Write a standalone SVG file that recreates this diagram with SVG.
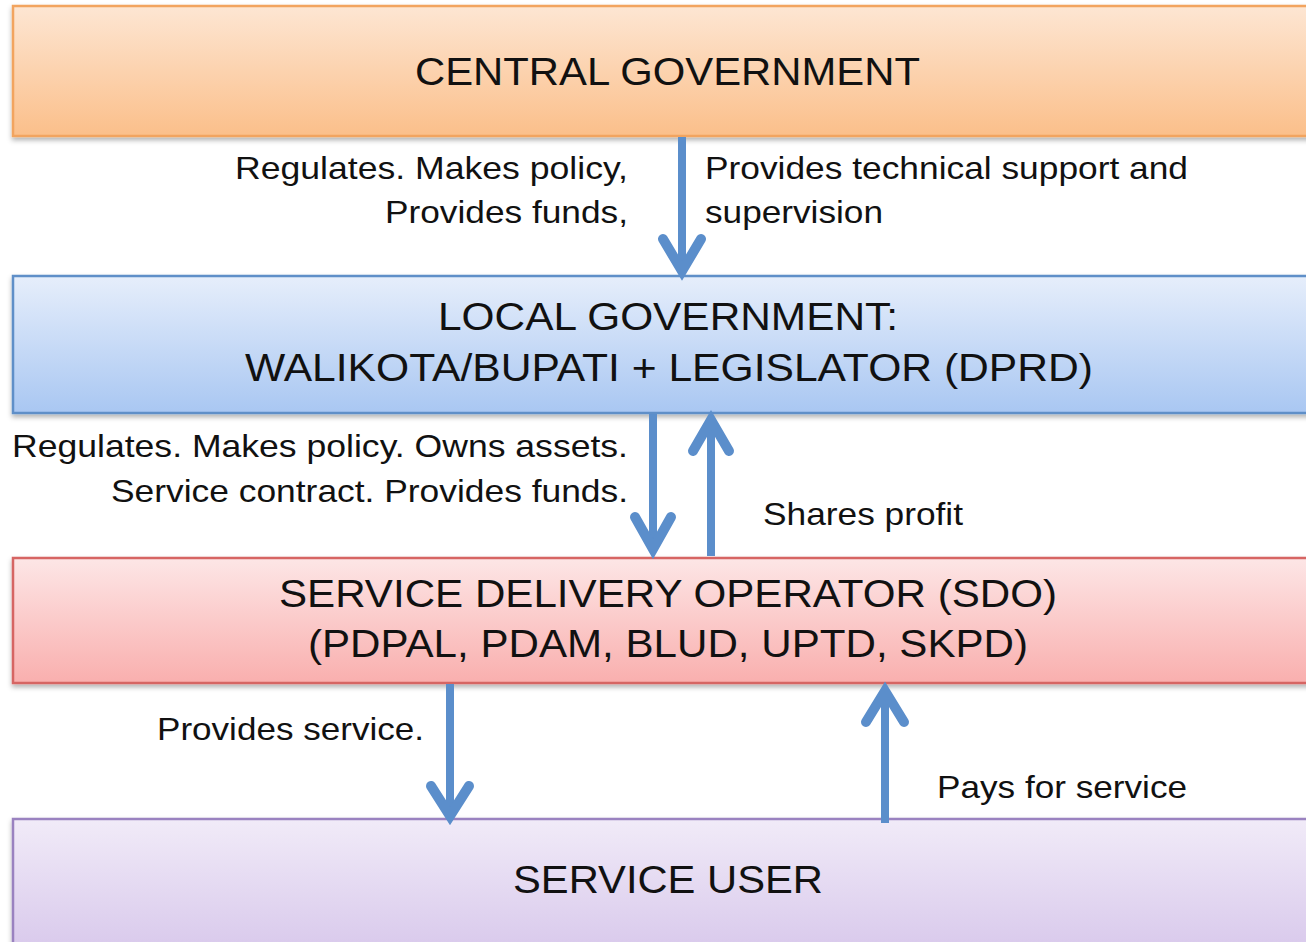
<svg xmlns="http://www.w3.org/2000/svg" width="1306" height="942" viewBox="0 0 1306 942">
<defs>
<linearGradient id="gOrange" x1="0" y1="0" x2="0" y2="1"><stop offset="0" stop-color="#fde6d3"/><stop offset="1" stop-color="#fbbf8a"/></linearGradient>
<linearGradient id="gBlue" x1="0" y1="0" x2="0" y2="1"><stop offset="0" stop-color="#e6eefb"/><stop offset="1" stop-color="#a9c7f2"/></linearGradient>
<linearGradient id="gRed" x1="0" y1="0" x2="0" y2="1"><stop offset="0" stop-color="#fde6e6"/><stop offset="1" stop-color="#f9afae"/></linearGradient>
<linearGradient id="gPurple" x1="0" y1="0" x2="0" y2="1"><stop offset="0" stop-color="#f1ebf8"/><stop offset="1" stop-color="#d5c4ea"/></linearGradient>
<filter id="shadow" x="-5%" y="-10%" width="110%" height="130%"><feDropShadow dx="0" dy="3" stdDeviation="2.5" flood-color="#000" flood-opacity="0.3"/></filter>
</defs>
<style>
.title{font-family:"Liberation Sans",Arial,sans-serif;font-size:39px;fill:#111;}
.lbl{font-family:"Liberation Sans",Arial,sans-serif;font-size:32px;fill:#111;}
.box{stroke-width:2.5;filter:url(#shadow);}
.shaft{stroke:#5b8ecb;stroke-width:8;fill:none;}
.head{stroke:#5b8ecb;stroke-width:10;fill:none;stroke-linecap:round;stroke-linejoin:miter;}
</style>
<rect width="1306" height="942" fill="#ffffff"/>
<g id="central">
<rect class="box" x="13" y="6" width="1320" height="130" fill="url(#gOrange)" stroke="#f2a45e"/>
<text class="title" x="415" y="85" textLength="505" lengthAdjust="spacingAndGlyphs">CENTRAL GOVERNMENT</text>
</g>
<g id="local">
<rect class="box" x="13" y="276" width="1320" height="137" fill="url(#gBlue)" stroke="#5e8fc8"/>
<text class="title" x="438" y="330" textLength="460" lengthAdjust="spacingAndGlyphs">LOCAL GOVERNMENT:</text>
<text class="title" x="245" y="381" textLength="848" lengthAdjust="spacingAndGlyphs">WALIKOTA/BUPATI + LEGISLATOR (DPRD)</text>
</g>
<g id="sdo">
<rect class="box" x="13" y="558" width="1320" height="125" fill="url(#gRed)" stroke="#d66563"/>
<text class="title" x="279" y="607" textLength="778" lengthAdjust="spacingAndGlyphs">SERVICE DELIVERY OPERATOR (SDO)</text>
<text class="title" x="308" y="657" textLength="720" lengthAdjust="spacingAndGlyphs">(PDPAL, PDAM, BLUD, UPTD, SKPD)</text>
</g>
<g id="user">
<rect class="box" x="13" y="819" width="1320" height="150" fill="url(#gPurple)" stroke="#9a82c0"/>
<text class="title" x="513" y="893" textLength="310" lengthAdjust="spacingAndGlyphs">SERVICE USER</text>
</g>
<g id="connectors">
<line class="shaft" x1="682" y1="137" x2="682" y2="268"/>
<path class="head" d="M663,239 L682,271 L701,239"/>
<line class="shaft" x1="653" y1="414" x2="653" y2="546"/>
<path class="head" d="M635,517 L653,549 L671,517"/>
<line class="shaft" x1="711" y1="556" x2="711" y2="423"/>
<path class="head" d="M693,451 L711,420 L729,451"/>
<line class="shaft" x1="450" y1="684" x2="450" y2="812"/>
<path class="head" d="M431,786 L450,816 L469,786"/>
<line class="shaft" x1="885" y1="823" x2="885" y2="694"/>
<path class="head" d="M866,722 L885,691 L904,722"/>
</g>
<g id="labels">
<text class="lbl" x="235" y="179" textLength="393" lengthAdjust="spacingAndGlyphs">Regulates. Makes policy,</text>
<text class="lbl" x="385" y="223" textLength="243" lengthAdjust="spacingAndGlyphs">Provides funds,</text>
<text class="lbl" x="705" y="179" textLength="483" lengthAdjust="spacingAndGlyphs">Provides technical support and</text>
<text class="lbl" x="705" y="223" textLength="178" lengthAdjust="spacingAndGlyphs">supervision</text>
<text class="lbl" x="12" y="457" textLength="616" lengthAdjust="spacingAndGlyphs">Regulates. Makes policy. Owns assets.</text>
<text class="lbl" x="111" y="502" textLength="517" lengthAdjust="spacingAndGlyphs">Service contract. Provides funds.</text>
<text class="lbl" x="763" y="525" textLength="200" lengthAdjust="spacingAndGlyphs">Shares profit</text>
<text class="lbl" x="157" y="740" textLength="267" lengthAdjust="spacingAndGlyphs">Provides service.</text>
<text class="lbl" x="937" y="798" textLength="250" lengthAdjust="spacingAndGlyphs">Pays for service</text>
</g>
</svg>
